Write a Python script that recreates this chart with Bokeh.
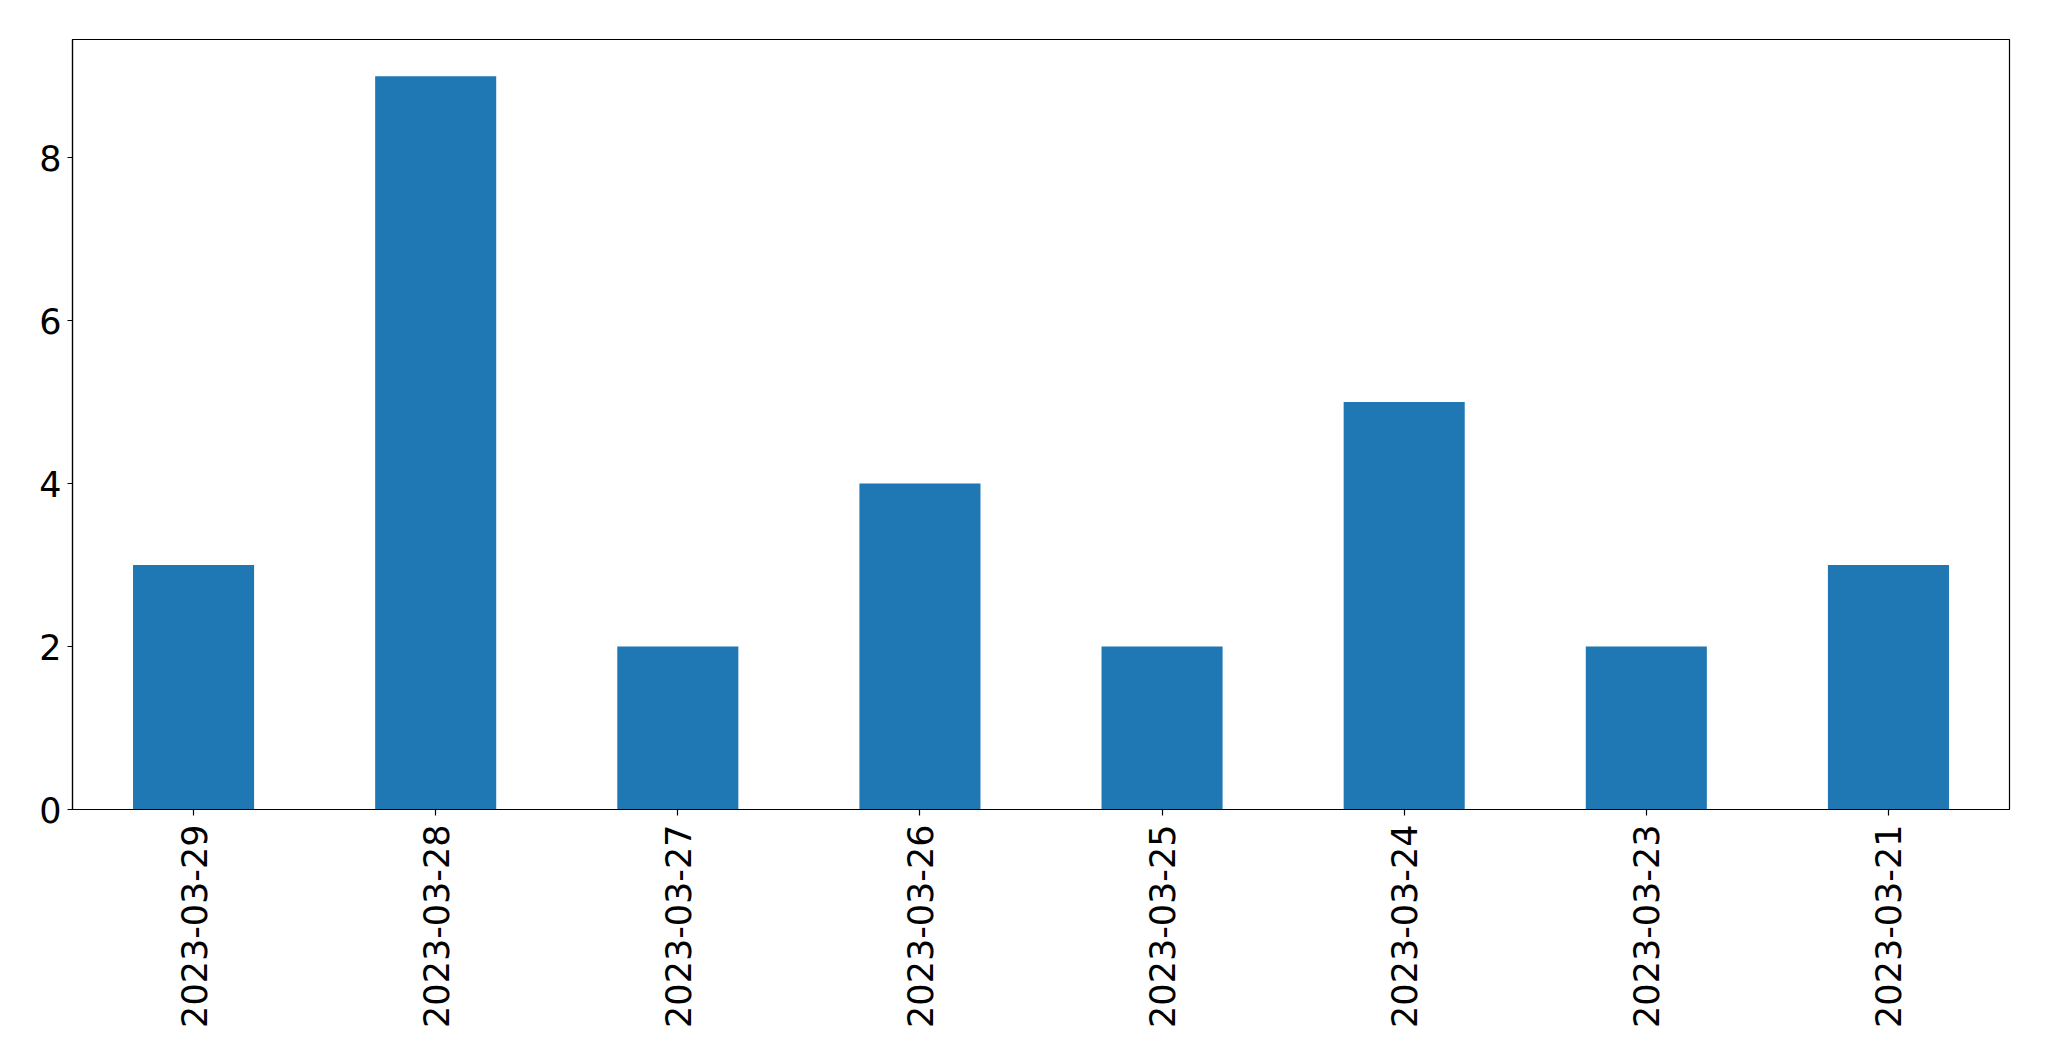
import math
from bokeh.plotting import figure
from bokeh.models import ColumnDataSource, FactorRange, Range1d, FixedTicker
from bokeh.embed import file_html
from bokeh.resources import INLINE

dates = ["2023-03-29", "2023-03-28", "2023-03-27", "2023-03-26",
         "2023-03-25", "2023-03-24", "2023-03-23", "2023-03-21"]
counts = [3, 9, 2, 4, 2, 5, 2, 3]
y_ticks = [0, 2, 4, 6, 8]

source = ColumnDataSource(data=dict(date=dates, count=counts))

p = figure(
    x_range=FactorRange(*dates, range_padding=0),
    y_range=Range1d(0, max(counts) * 1.05),
    width=2041, height=1045,
    output_backend="svg", toolbar_location=None,
    min_border_left=72, min_border_right=32,
    min_border_top=39, min_border_bottom=236,
)

p.vbar(x="date", top="count", width=0.5, source=source,
       fill_color="#1f77b4", line_color=None)

p.xgrid.visible = False
p.ygrid.visible = False
p.outline_line_color = "black"
p.outline_line_width = 1.2
p.background_fill_color = "white"
p.border_fill_color = "white"

for ax in (p.xaxis[0], p.yaxis[0]):
    ax.axis_line_color = "black"
    ax.axis_line_width = 1.2
    ax.major_tick_line_color = "black"
    ax.major_tick_line_width = 1.2
    ax.major_tick_in = 0
    ax.minor_tick_line_color = None
    ax.major_label_text_font = "DejaVu Sans"
    ax.major_label_text_font_size = "35px"
    ax.major_label_text_color = "black"

p.xaxis.major_tick_out = 6
p.xaxis.major_label_orientation = math.pi / 2
p.xaxis.major_label_standoff = 9

p.yaxis.ticker = FixedTicker(ticks=y_ticks)
p.yaxis.major_tick_out = 5
p.yaxis.major_label_standoff = 6

open("out.html", "w").write(file_html(p, INLINE))
